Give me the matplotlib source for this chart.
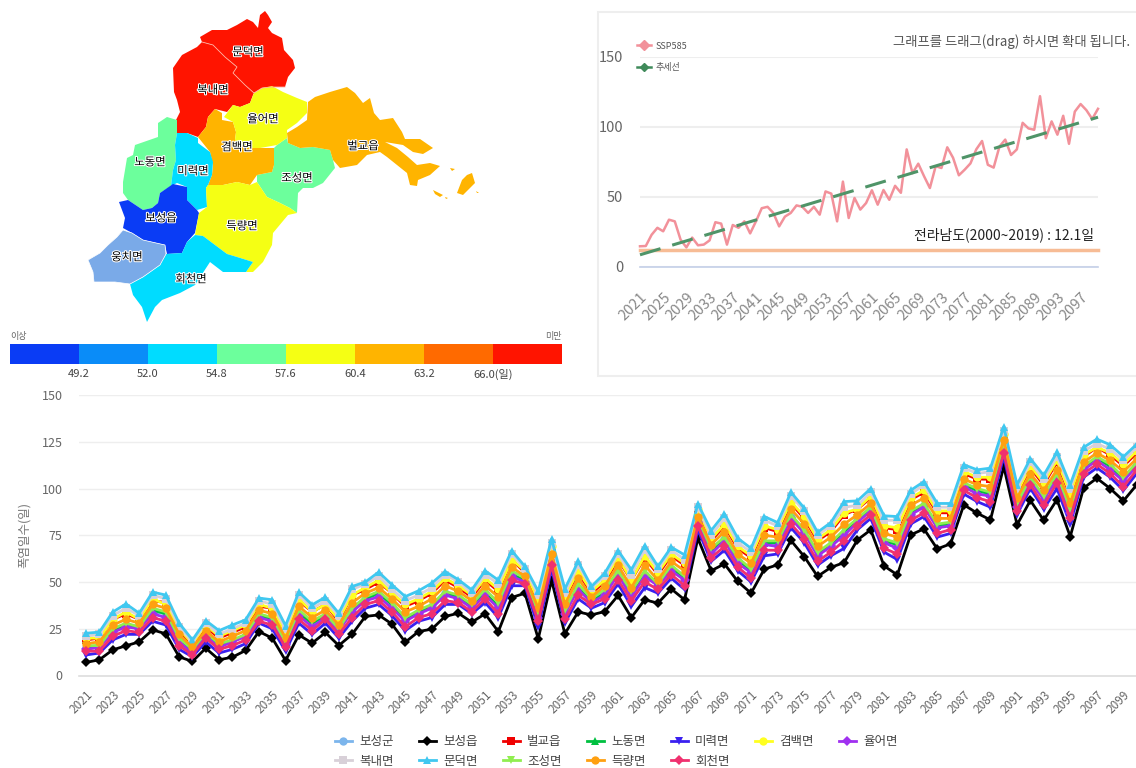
import numpy as np
import matplotlib
matplotlib.use("Agg")
import matplotlib.pyplot as plt
import matplotlib.patheffects as pe
from matplotlib.patches import Polygon, Rectangle
from matplotlib.transforms import ScaledTranslation

plt.rcParams['font.family'] = ['Noto Sans CJK KR', 'DejaVu Sans']

W, H = 1136, 768

years = list(range(2021, 2101))

# bottom chart, one list per area
boseong_gun = [15,16,24,27,26,34,33,19,13,22, 16,18,21,32,30,17,33,27,32,24,
    35,41,43,37,30,34,37,44,42,37, 44,37,54,51,32,62,34,47,40,44,
    55,43,54,48,57,52,83,66,73,61, 56,71,70,85,77,65,70,76,83,89,
    72,70,87,91,80,81,102,98,97,122, 91,105,95,107,88,111,116,112,105,113]
boseong_eup = [7,8.4,13.7,15.9,18,24.4,22.3,10,7.5,14.6, 8.4,9.8,13.4,23.5,20,8,21.7,17.3,23,16,
    22,31.6,32.4,27.5,17.8,23.5,24.8,31.6,33.3,28.5, 33,23.5,41.7,44,19.6,51,22.3,34,32.4,34.2,
    42.8,31,40.5,38.7,46.3,40.5,73.4,56,59.7,50.3, 44,56.9,59.2,72.2,63.6,53,57.8,60.4,72.5,77.9,
    58.6,53.8,75.2,78.4,67.7,70.4,91.3,86.8,83.2,111.8, 80.6,93.6,83,94,74.3,100.2,105.5,100,93.4,102]
beolgyo = [19,20,30,33,30,40,39,24,16,26, 20,23,26,37,36,23,40,34,38,29,
    43,46,50,44,37,40,44,51,47,42, 51,45,62,55,39,68,41,55,44,50,
    62,51,63,54,64,59,88,72,80,68, 63,79,77,92,84,72,77,86,89,95,
    79,78,94,98,87,87,108,105,105,128, 97,111,102,114,96,117,122,118,112,119]
nodong = [15,16,24,27,26,35,33,19,13,22, 16,18,22,32,30,18,33,28,32,25,
    35,41,44,38,30,34,37,44,42,37, 44,37,54,51,32,62,34,47,40,44,
    55,44,55,49,58,52,83,67,73,62, 56,71,71,85,77,65,70,77,83,89,
    72,70,87,91,80,81,102,99,97,122, 91,105,95,107,88,111,116,112,105,113]
miryeok = [11,12,19,22,22,29,27,14,10,18, 12,14,17,28,25,13,28,22,28,20,
    29,36,38,32,24,29,31,38,38,33, 39,31,48,48,26,57,28,41,36,39,
    49,37,47,44,52,46,78,61,67,56, 50,64,65,79,71,59,64,68,78,84,
    66,62,81,85,74,76,97,93,90,117, 86,100,89,100,81,106,111,106,99,108]
gyeombaek = [20,20,30,34,30,41,38,25,17,27, 21,24,27,38,36,23,41,34,38,30,
    43,47,51,44,38,41,45,52,48,43, 52,46,62,56,40,69,42,56,45,51,
    63,51,64,55,65,60,89,73,81,69, 64,80,78,93,85,73,78,87,89,96,
    80,79,95,99,88,88,109,106,106,129, 98,112,103,115,97,118,122,119,113,120]
yuleo = [14,15,23,26,25,33,31,18,12,21, 15,18,21,31,29,17,32,26,31,24,
    34,40,42,36,29,33,36,43,41,36, 43,36,53,50,31,61,33,46,39,43,
    54,42,53,48,56,51,82,65,72,60, 55,70,69,84,76,64,69,75,82,88,
    71,68,86,90,79,80,101,97,96,121, 90,104,94,105,87,110,115,110,104,112]
boknae = [21,22,32,36,32,43,41,26,18,28, 22,25,28,40,38,25,43,36,40,32,
    46,49,53,46,40,43,47,54,50,44, 54,49,65,57,43,71,44,59,47,53,
    65,54,67,57,67,62,90,75,84,71, 66,83,80,96,88,75,80,90,91,98,
    83,83,97,102,90,90,111,108,109,131, 100,114,105,117,100,120,124,121,115,122]
mundeok = [22.6,23.2,33.9,38.3,33.3,44.6,43,28,19,29.4, 24,27,29.8,41.4,40.5,26.7,44.6,37.8,41.9,33.3,
    47.6,50,55.3,48.5,42.2,45.3,49.4,55.6,51.2,45.8, 56,51,66.8,58.3,45,73,46.3,61,47.6,54.7,
    66.8,56.5,69.5,58.3,68.6,64.5,91.8,77.5,86.5,73.4, 68,85,81.8,98,89.5,76.6,81.8,93,93.4,100,
    85.4,85,99,103.7,92,92,112.7,110,110.9,133, 102,116,107,119.4,102,122,126.4,123.4,117,123.7]
joseong = [16,16,25,28,26,36,34,20,14,23, 17,19,22,33,31,18,35,29,33,25,
    36,42,45,39,31,35,38,45,43,38, 46,39,56,52,34,63,35,49,41,46,
    56,45,56,49,59,53,84,68,74,63, 57,72,72,86,78,66,71,78,84,90,
    73,71,88,92,81,82,103,100,98,124, 92,106,96,108,89,112,117,113,106,114]
deungnyang = [17,18,27,30,28,38,36,22,15,24, 18,21,24,35,33,20,37,31,35,27,
    39,44,47,41,34,37,41,48,45,40, 48,42,58,53,36,65,38,52,42,48,
    59,47,59,51,61,56,85,70,77,65, 60,75,74,89,81,69,74,81,86,92,
    76,74,91,95,84,84,105,102,101,126, 95,108,99,110,92,114,119,115,109,116]
hoecheon = [13,13,21,24,23,31,29,16,11,20, 14,16,19,29,27,15,30,24,30,22,
    31,38,40,34,26,31,33,40,39,34, 41,33,51,49,29,59,30,43,38,41,
    51,40,50,46,54,48,80,63,69,58, 52,67,67,81,73,61,66,72,80,86,
    68,65,83,87,76,78,99,95,93,119, 88,102,91,103,84,108,113,108,101,110]

# top right chart
ssp585 = [14.8,15,23,28,25.5,33.8,32.6,19.5,14,21, 15.5,16,19,32,31,16,30,28,32.6,24,
    32.6,42,43,38.6,29,36,38.6,44,43,38.6, 43,37.4,54,52.4,32.6,61,35,49.3,41,45.7,
    54.8,44.5,55,48,58,53,84,67,73.8,64.8, 56.4,72,70.7,85.5,78,65.5,69.5,74,84,90,
    73,71,86,91,80,84,103,99,98,122, 92,104,94.5,108,88,111,116.4,112,105.7,113]
trend_years = [2021, 2100]
trend_values = [8.7, 107]
jeonnam_mean = 12.1

# map colour scale
scale_colors = ['#0a3cf5', '#0a8cf8', '#00dcff', '#6cff9c', '#f5ff14', '#ffb400', '#ff6a00', '#ff1400']
scale_labels = ['49.2', '52.0', '54.8', '57.6', '60.4', '63.2', '66.0(일)']

# map outlines
mundeok_shape = [(200,37),(212,30),(227,30),(237,25),(247,19),(253,22),(258,28),(260,15),(265,11),(268,15),(272,22),(268,28),
    (272,33),(282,38),(284,50),(293,60),(295,68),(288,77),(285,87),(272,87),(262,88),(254,93),(245,85),(233,73),(237,67),(225,57),(213,45),(202,42)]
boknae_shape = [(202,42),(213,45),(225,57),(237,67),(233,73),(245,85),(254,93),(253,95),(250,103),(240,107),(233,105),(227,112),
    (215,109),(208,117),(206,127),(198,137),(187,133),(177,133),(175,122),(180,112),(177,100),(174,92),(173,68),(182,55),(197,47)]
gyeombaek_shape = [(215,109),(222,113),(222,120),(233,122),(236,132),(235,140),(247,148),(260,148),(274,148),(274,165),(272,172),
    (257,175),(250,185),(237,182),(223,185),(208,185),(212,175),(213,165),(210,152),(198,137),(206,127),(208,117)]
yuleo_shape = [(224,117),(233,105),(240,107),(250,103),(254,93),(262,88),(272,86),(283,92),(297,98),(307,102),(307,113),(297,123),
    (287,130),(287,138),(277,145),(260,148),(247,148),(235,140),(236,132),(233,122)]
beolgyo_shape = [(308,102),(315,97),(330,92),(347,87),(355,93),(363,103),(370,98),(374,113),(380,120),(393,118),(402,132),(405,139),
    (420,139),(433,148),(423,154),(413,152),(403,145),(385,142),(397,148),(408,157),(417,165),(430,163),(440,166),(430,175),(418,180),
    (417,186),(410,185),(407,173),(397,165),(387,157),(380,152),(367,155),(357,165),(340,168),(333,160),(330,150),(313,147),(300,148),
    (288,143),(287,133),(297,127),(307,120)]
beolgyo_island_a = [(433,190),(443,195),(440,197),(435,194)]
beolgyo_island_b = [(457,193),(462,180),(467,175),(472,173),(475,183),(470,188),(463,195)]
beolgyo_island_c = [(450,168),(455,169),(452,171)]
beolgyo_island_d = [(445,197),(448,198),(446,199)]
beolgyo_island_e = [(476,191),(479,193),(477,193)]
joseong_shape = [(277,145),(287,138),(288,143),(300,148),(313,147),(330,150),(333,160),(335,168),(323,183),(313,188),(303,188),(298,193),
    (297,213),(290,208),(280,203),(267,197),(257,182),(257,175),(272,172),(274,165),(274,148)]
nodong_shape = [(177,120),(167,117),(158,123),(158,137),(135,145),(133,155),(127,158),(123,182),(123,193),(128,200),(143,210),(152,208),
    (158,203),(160,193),(171,186),(173,170),(176,160),(175,145),(177,133)]
miryeok_shape = [(177,133),(187,133),(198,138),(198,143),(210,152),(213,162),(212,175),(208,185),(206,188),(207,207),(197,210),(187,200),
    (187,187),(177,183),(171,186),(173,170),(176,160),(175,145)]
boseong_shape = [(173,184),(187,187),(187,200),(197,210),(199,213),(195,233),(187,242),(182,253),(167,254),(165,245),(143,240),(132,233),
    (123,228),(125,218),(119,202),(128,200),(143,210),(152,208),(158,203),(160,193)]
deungnyang_shape = [(206,188),(208,185),(223,185),(237,182),(250,185),(257,182),(267,197),(280,203),(290,208),(297,213),(288,215),(273,233),
    (272,245),(263,262),(253,272),(246,272),(253,262),(237,257),(227,254),(215,245),(203,236),(195,235),(199,213),(207,207)]
ungchi_shape = [(123,230),(132,233),(143,240),(165,245),(166,254),(160,265),(143,277),(130,284),(115,282),(94,282),(93,272),(88,260),
    (100,253),(108,245),(117,237)]
hoecheon_shape = [(130,284),(143,277),(160,265),(166,254),(182,253),(187,242),(195,235),(203,236),(215,245),(227,254),(237,257),(253,262),
    (246,272),(223,272),(210,262),(195,285),(180,293),(162,300),(155,307),(147,322),(142,307),(133,295)]


def px_axes(fig, left, top, right, bottom):
    return fig.add_axes([left / W, 1 - bottom / H, (right - left) / W, (bottom - top) / H])


fig = plt.figure(figsize=(W / 100, H / 100), dpi=100)
fig.patch.set_facecolor('white')

# ---- map ----
ax_map = px_axes(fig, 0, 0, 570, 380)
ax_map.set_xlim(0, 570)
ax_map.set_ylim(380, 0)
ax_map.axis('off')

map_regions = [
    (mundeok_shape, 7), (boknae_shape, 7), (nodong_shape, 3), (joseong_shape, 3),
    (gyeombaek_shape, 5), (yuleo_shape, 4), (beolgyo_shape, 5), (beolgyo_island_a, 5),
    (beolgyo_island_b, 5), (beolgyo_island_c, 5), (beolgyo_island_d, 5), (beolgyo_island_e, 5),
    (miryeok_shape, 2), (boseong_shape, 0), (deungnyang_shape, 4), (hoecheon_shape, 2),
]
for shape, c in map_regions:
    ax_map.add_patch(Polygon(shape, closed=True, facecolor=scale_colors[c], edgecolor='none'))
ax_map.add_patch(Polygon(ungchi_shape, closed=True, facecolor='#7aaae8', edgecolor='white', linewidth=0.5))
# thin pale border between the two red areas
ax_map.plot([p[0] for p in mundeok_shape[-10:]], [p[1] for p in mundeok_shape[-10:]], color='#ffb0a0', linewidth=0.6)

map_names = ['문덕면', '복내면', '율어면', '겸백면', '벌교읍', '노동면', '미력면', '조성면', '보성읍', '득량면', '웅치면', '회천면']
name_x = [248, 213, 263, 237, 363, 150, 193, 297, 161, 242, 127, 191]
name_y = [52, 90, 119, 147, 146, 162, 171, 178, 218, 226, 257, 279]
for n, x, y in zip(map_names, name_x, name_y):
    ax_map.text(x, y, n, fontsize=8.2, ha='center', va='center', color='black',
                path_effects=[pe.withStroke(linewidth=1.5, foreground='white')])

# ---- colour scale ----
ax_bar = px_axes(fig, 10, 344, 562, 364)
ax_bar.set_xlim(0, len(scale_colors))
ax_bar.set_ylim(0, 1)
ax_bar.axis('off')
for i, c in enumerate(scale_colors):
    ax_bar.add_patch(Rectangle((i, 0), 1, 1, facecolor=c, edgecolor='none'))
for i, lab in enumerate(scale_labels):
    ax_bar.text(i + 1, -0.5, lab, fontsize=8, ha='center', va='center', color='#444444')
ax_bar.text(0, 1.4, '이상', fontsize=6.5, ha='left', va='center', color='#666666')
ax_bar.text(8, 1.4, '미만', fontsize=6.5, ha='right', va='center', color='#666666')

# ---- top right chart ----
fig.add_artist(Rectangle((598 / W, 1 - 376 / H), 545 / W, 364 / H, transform=fig.transFigure,
                         facecolor='white', edgecolor='#eeeeee', linewidth=1.5, zorder=-1))
ax_top = px_axes(fig, 640, 57, 1098, 267)
ax_top.set_facecolor('none')
ax_top.set_xlim(2021, 2100)
ax_top.set_ylim(0, 150)
for s in ax_top.spines.values():
    s.set_visible(False)
ax_top.set_yticks([0, 50, 100, 150])
ax_top.set_xticks(years[::4])
ax_top.set_xticklabels(years[::4], rotation=45, ha='right', rotation_mode='anchor', fontsize=10.5, color='#888888')
ax_top.tick_params(length=0)
ax_top.tick_params(axis='x', pad=17)
ax_top.tick_params(axis='y', labelsize=10.5, labelcolor='#666666', pad=12)
ax_top.grid(axis='y', color='#eeeeee', linewidth=1.5)
ax_top.set_axisbelow(True)
ax_top.axhline(0, color='#c4cfe8', linewidth=1.2, clip_on=False)
ax_top.axhline(jeonnam_mean, color='#f7bc95', linewidth=2.5, clip_on=False)
ax_top.plot(years, ssp585, color='#f2919a', linewidth=1.8, clip_on=False)
ax_top.plot(trend_years, trend_values, color='#4f9468', linewidth=2.2, dashes=(7, 4), clip_on=False)
ax_top.text(2099.3, 23, '전라남도(2000~2019) : 12.1일', fontsize=10, style='italic',
            ha='right', va='center', color='#222222')
fig.text(1130 / W, 1 - 42 / H, '그래프를 드래그(drag) 하시면 확대 됩니다.', fontsize=9.6,
         ha='right', va='center', color='#555555')
top_handles = [
    plt.Line2D([], [], color='#f2919a', linewidth=1.8, marker='D', markersize=5),
    plt.Line2D([], [], color='#3f8a5a', linewidth=1.8, marker='D', markersize=4),
]
fig.legend(top_handles, ['SSP585', '추세선'], loc='upper left', bbox_to_anchor=(632 / W, 1 - 37 / H),
           frameon=False, fontsize=6.5, labelcolor='#555555', handlelength=1.6,
           labelspacing=1.35, handletextpad=0.5, borderpad=0)

# ---- bottom chart ----
ax = px_axes(fig, 79.4, 395, 1143.4, 675.5)
ax.set_xlim(2020.5, 2100.5)
ax.set_ylim(0, 150)
for s in ['top', 'left', 'right']:
    ax.spines[s].set_visible(False)
ax.spines['bottom'].set_color('#dddddd')
ax.spines['bottom'].set_linewidth(1.2)
ax.set_yticks([0, 25, 50, 75, 100, 125, 150])
ax.set_xticks(years[::2])
ax.set_xticklabels(years[::2], rotation=45, ha='right', rotation_mode='anchor', fontsize=8.5, color='#666666')
shift = ScaledTranslation(-4 / 100, 0, fig.dpi_scale_trans)
for lab in ax.get_xticklabels():
    lab.set_transform(lab.get_transform() + shift)
ax.tick_params(length=0)
ax.tick_params(axis='x', pad=9)
ax.tick_params(axis='y', labelsize=9, labelcolor='#666666', pad=12)
ax.grid(axis='y', color='#eeeeee', linewidth=1)
ax.set_axisbelow(True)
ax.set_ylabel('폭염일수(일)', fontsize=9, color='#777777', labelpad=8)

series = [
    ('보성군', boseong_gun, '#7cb5ec', 'o'),
    ('보성읍', boseong_eup, '#000000', 'D'),
    ('벌교읍', beolgyo, '#f00000', 's'),
    ('노동면', nodong, '#00c040', '^'),
    ('미력면', miryeok, '#3a20f0', 'v'),
    ('겸백면', gyeombaek, '#ffff20', 'o'),
    ('율어면', yuleo, '#a030f0', 'D'),
    ('복내면', boknae, '#d8d0d8', 's'),
    ('문덕면', mundeok, '#40c8f0', '^'),
    ('조성면', joseong, '#90ee50', 'v'),
    ('득량면', deungnyang, '#ffa010', 'o'),
    ('회천면', hoecheon, '#f0306f', 'D'),
]
handles = {}
for name, vals, color, marker in series:
    ms = 5 if marker == 'D' else 6
    line, = ax.plot(years, vals, color=color, linewidth=2.0, marker=marker, markersize=ms,
                    markeredgewidth=0, label=name)
    handles[name] = line

legend_order = ['보성군', '복내면', '보성읍', '문덕면', '벌교읍', '조성면', '노동면', '득량면', '미력면', '회천면', '겸백면', '율어면']
fig.legend([handles[n] for n in legend_order], legend_order, ncols=7, loc='lower left',
           bbox_to_anchor=(329 / W, 1 - 774 / H), frameon=False, fontsize=9, labelcolor='#444444',
           handlelength=1.3, handletextpad=0.6, columnspacing=2.06, labelspacing=0.5, borderpad=0)

plt.savefig('out.png', dpi=100)
